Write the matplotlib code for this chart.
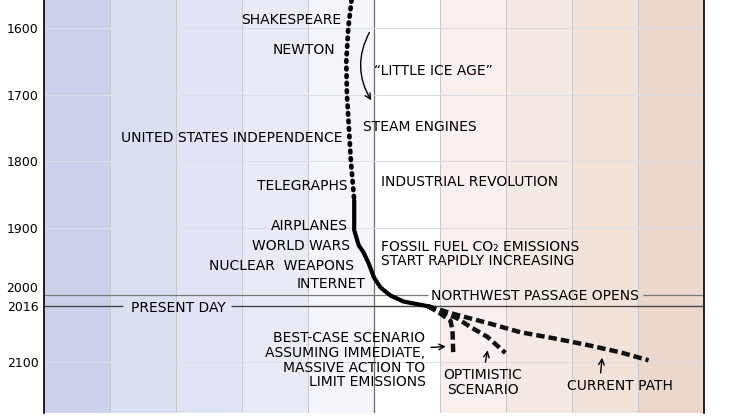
import numpy as np
import matplotlib
matplotlib.use('Agg')
import matplotlib.pyplot as plt

# temperature bands (deg C relative to baseline) and their fill colours
band_edges = [-5, -4, -3, -2, -1, 0, 1, 2, 3, 4, 5]
band_colors = ['#cbd1ea', '#dadff1', '#e1e4f4', '#e8ebf6', '#f5f6fb',
               '#ffffff', '#f9f0ed', '#f5e9e4', '#f1e2da', '#ebd7cc']

year_ticks = [1600, 1700, 1800, 1900, 2000, 2016, 2100]
year_labels = ['1600', '1700', '1800', '1900', '2000', '2016', '2100']

# the temperature curve
dotted_years = [1558, 1600, 1650, 1700, 1750, 1800, 1858]
dotted_temp = [-0.34, -0.39, -0.42, -0.41, -0.38, -0.35, -0.30]
solid_years = [1858, 1903, 1913, 1926, 1936, 1953, 1974, 1989, 2001, 2010, 2014, 2017]
solid_temp = [-0.30, -0.30, -0.27, -0.23, -0.16, -0.08, 0.0, 0.10, 0.25, 0.45, 0.66, 0.82]

best_years = [2017, 2027, 2039, 2054, 2086]
best_temp = [0.82, 0.99, 1.16, 1.19, 1.20]
optim_years = [2017, 2035, 2048, 2063, 2087]
optim_temp = [0.82, 1.26, 1.46, 1.72, 1.99]
current_years = [2017, 2030, 2042, 2056, 2065, 2075, 2086, 2098]
current_temp = [0.82, 1.26, 1.72, 2.22, 2.72, 3.23, 3.73, 4.16]

# events on the left of the curve (right aligned) and on the right (left aligned)
left_events = ['SHAKESPEARE', 'NEWTON', 'UNITED STATES INDEPENDENCE', 'TELEGRAPHS',
               'AIRPLANES', 'WORLD WARS', 'NUCLEAR  WEAPONS', 'INTERNET']
left_years = [1588, 1633, 1765, 1837, 1897, 1927, 1957, 1984]
left_x = [-0.50, -0.58, -0.48, -0.40, -0.40, -0.36, -0.31, -0.13]

right_events = ['STEAM ENGINES', 'INDUSTRIAL REVOLUTION',
                'FOSSIL FUEL CO\u2082 EMISSIONS\nSTART RAPIDLY INCREASING']
right_years = [1748, 1831, 1938]
right_x = [-0.17, 0.10, 0.10]

fig = plt.figure(figsize=(7.47, 4.16), dpi=100)
ax = fig.add_axes([44 / 747, 3 / 416, 660 / 747, 413 / 416])
ax.set_xlim(-5, 5)
ax.set_ylim(2177, 1558)

for i in range(len(band_colors)):
    ax.axvspan(band_edges[i], band_edges[i + 1], color=band_colors[i], lw=0, zorder=0)
for e in band_edges[1:-1]:
    if e != 0:
        ax.axvline(e, color='#c9c9cc', lw=0.7, zorder=1)
ax.axvline(0, color='#6e6e6e', lw=0.9, zorder=1)
for y in [1600, 1700, 1800, 1900, 2100]:
    ax.axhline(y, color='#dcdee6', lw=0.7, zorder=1)

# 2000 line broken by the Northwest Passage label, 2016 line broken by "present day"
ax.hlines(2000, -5, 0.82, color='#7a7a7a', lw=0.9, zorder=1)
ax.hlines(2000, 4.08, 5, color='#7a7a7a', lw=0.9, zorder=1)
ax.hlines(2016, -5, -3.81, color='#444444', lw=1.0, zorder=1)
ax.hlines(2016, -2.17, 5, color='#444444', lw=1.0, zorder=1)

# curve
ax.plot(dotted_temp, dotted_years, color='black', lw=3.4, ls=(0, (0.35, 1.25)),
        dash_capstyle='round', zorder=3)
ax.plot(solid_temp, solid_years, color='black', lw=3.0, solid_capstyle='round',
        solid_joinstyle='round', zorder=3)
for t, yrs in [(best_temp, best_years), (optim_temp, optim_years), (current_temp, current_years)]:
    ax.plot(t, yrs, color='#111111', lw=3.2, ls=(0, (1.9, 0.9)), dash_capstyle='butt', zorder=3)

fs = 10
for name, yr, x in zip(left_events, left_years, left_x):
    ax.text(x, yr, name, ha='right', va='center', fontsize=fs, zorder=4)
for name, yr, x in zip(right_events, right_years, right_x):
    ax.text(x, yr, name, ha='left', va='center', fontsize=fs, linespacing=1.0, zorder=4)

ax.text(0.0, 1665, '\u201cLITTLE ICE AGE\u201d', ha='left', va='center', fontsize=fs, zorder=4)
ax.annotate('', xy=(-0.02, 1712), xytext=(-0.05, 1603),
            arrowprops=dict(arrowstyle='->', color='black', lw=1.0,
                            connectionstyle='arc3,rad=0.3'))

ax.text(-2.97, 2019, 'PRESENT DAY', ha='center', va='center', fontsize=fs, zorder=4)
ax.text(0.86, 2001, 'NORTHWEST PASSAGE OPENS', ha='left', va='center', fontsize=fs, zorder=4)

ax.text(0.78, 2098, 'BEST-CASE SCENARIO\nASSUMING IMMEDIATE,\nMASSIVE ACTION TO\nLIMIT EMISSIONS',
        ha='right', va='center', multialignment='right', fontsize=fs, linespacing=1.05, zorder=4)
ax.annotate('', xy=(1.13, 2077), xytext=(0.82, 2079),
            arrowprops=dict(arrowstyle='->', color='black', lw=1.0))

ax.text(1.65, 2131, 'OPTIMISTIC\nSCENARIO', ha='center', va='center', fontsize=fs,
        linespacing=1.05, zorder=4)
ax.annotate('', xy=(1.73, 2079), xytext=(1.68, 2105),
            arrowprops=dict(arrowstyle='->', color='black', lw=1.0))

ax.text(3.72, 2136, 'CURRENT PATH', ha='center', va='center', fontsize=fs, zorder=4)
ax.annotate('', xy=(3.46, 2090), xytext=(3.43, 2121),
            arrowprops=dict(arrowstyle='->', color='black', lw=1.0))

ax.set_xticks([])
ax.set_yticks(year_ticks)
ax.set_yticklabels(year_labels, fontsize=9)
ax.tick_params(axis='y', length=0, pad=4)
for lab in ax.get_yticklabels():
    if lab.get_text() == '2000':
        lab.set_va('bottom')
ax.spines['top'].set_visible(False)
ax.spines['bottom'].set_visible(False)
ax.spines['left'].set_linewidth(1.2)
ax.spines['right'].set_linewidth(1.2)

fig.savefig('out.png', dpi=100)
